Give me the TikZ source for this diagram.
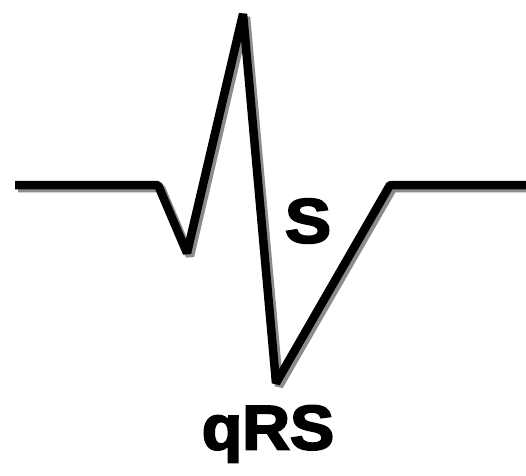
\documentclass[tikz,border=0pt]{standalone}
\usepackage{fontspec}
\setmainfont{Liberation Sans}
\newfontfamily\heavyfont{Liberation Sans Bold}[FakeBold=3]
\usetikzlibrary{calc}
\tikzset{
  trace/.style={line width=8.5pt, line join=bevel, line cap=butt},
  shade/.style={trace, draw=black!45},
  lbl/.style={font=\heavyfont\fontsize{63}{63}\selectfont, inner sep=0pt}
}
\begin{document}
\begin{tikzpicture}[x=1pt,y=-1pt]
		\useasboundingbox (0,0) rectangle (526,475);
		\coordinate (a) at (15,185);
		\coordinate (b) at (158,185);
		\coordinate (q) at (187,253);
		\coordinate (r) at (243,14);
		\coordinate (s) at (276,383);
		\coordinate (c) at (390,185);
		\coordinate (d) at (526,185);
		
		\draw[shade] ($(a)+(3,3)$) -- ($(b)+(3,3)$) -- ($(q)+(3,3)$) -- ($(r)+(3,3)$) -- ($(s)+(3,3)$) -- ($(c)+(3,3)$) -- ($(d)+(3,3)$);
		\draw[trace] (a) -- (b) -- (q) -- (r) -- (s) -- (c) -- (d);
		
		\node[lbl, xscale=1.1] (sl) at (308,221) {S};
		\node[lbl, xscale=1.05] (ql) at (268,434) {qRS};
	\end{tikzpicture}
\end{document}
